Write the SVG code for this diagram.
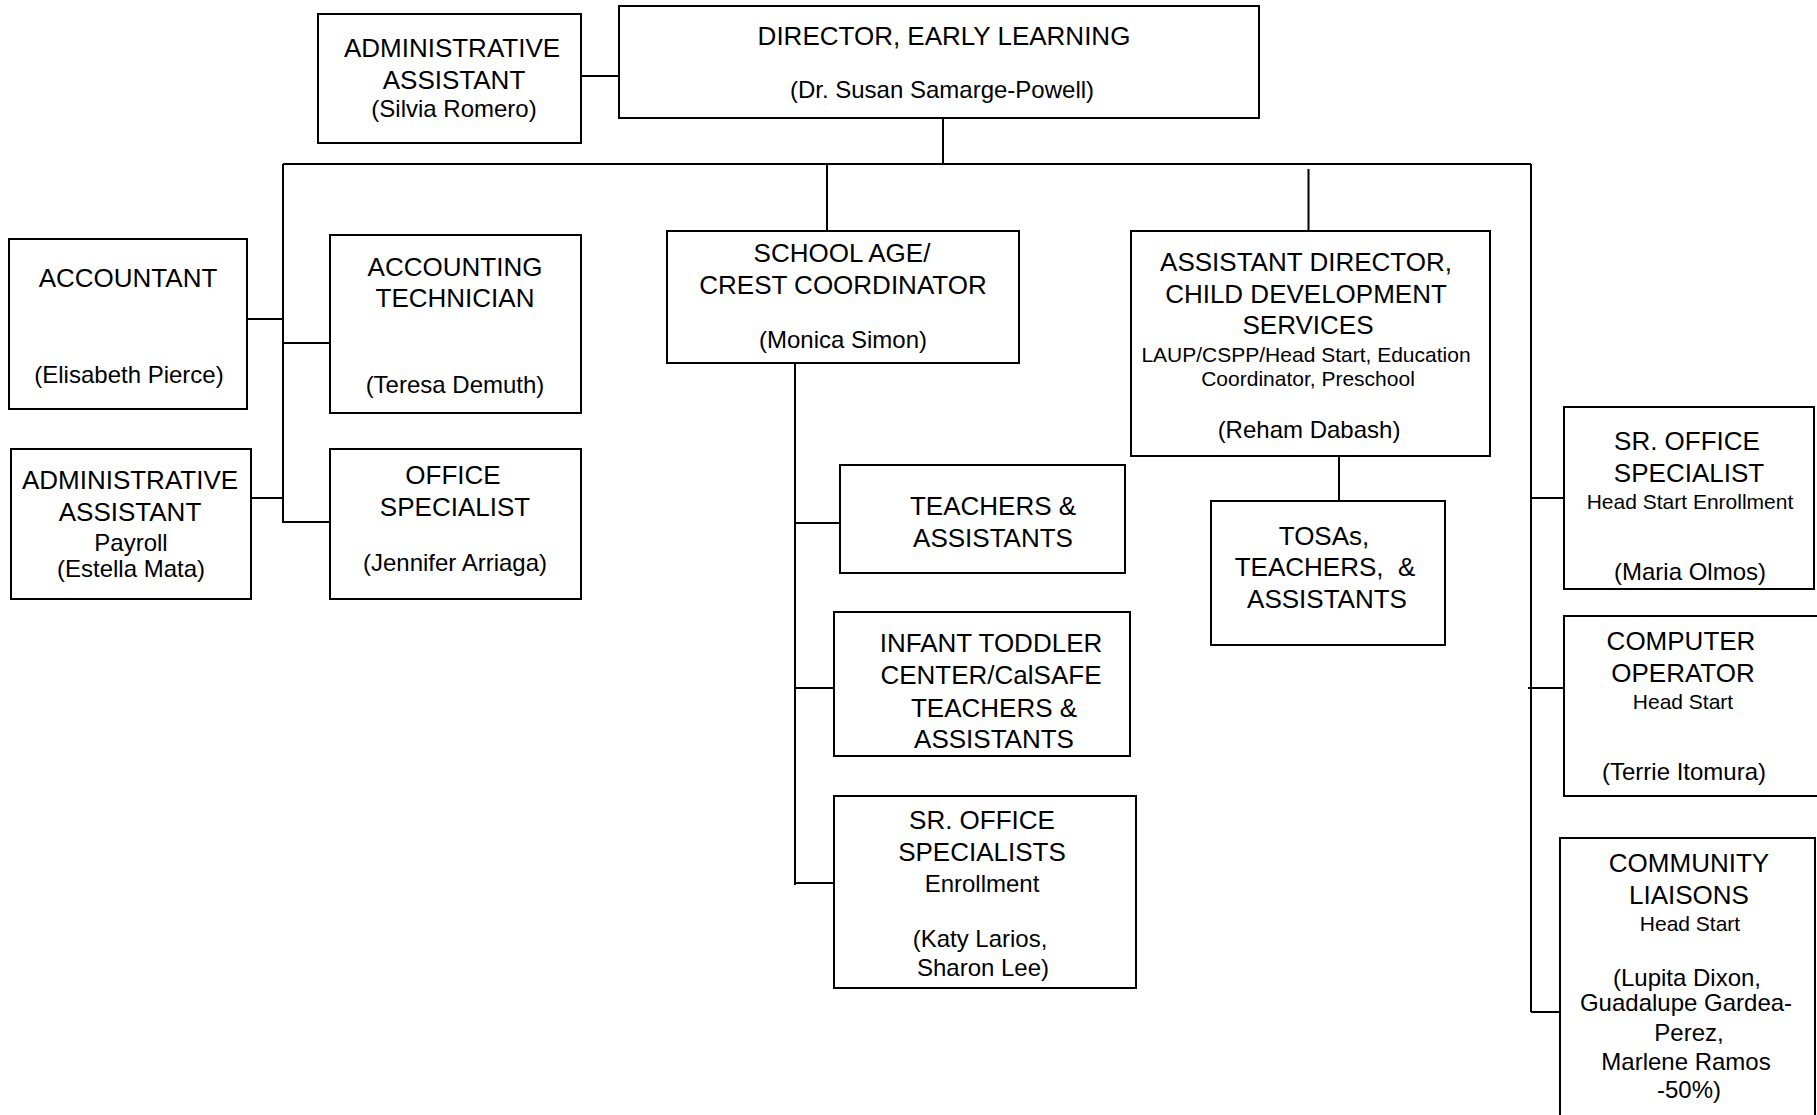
<svg xmlns="http://www.w3.org/2000/svg" width="1817" height="1115" viewBox="0 0 1817 1115">
<style>
  .box { fill: #ffffff; stroke: #000000; stroke-width: 2; }
  .ln { stroke: #000000; stroke-width: 2; fill: none; }
  text { font-family: "Liberation Sans", Arial, sans-serif; fill: #000000; text-anchor: middle; }
  .t { font-size: 26px; }
  .n { font-size: 24px; }
  .s { font-size: 21px; }
</style>
<rect x="0" y="0" width="1817" height="1115" fill="#ffffff"/>
<g id="connectors">
  <line class="ln" x1="581" y1="76" x2="619" y2="76"/>
  <line class="ln" x1="943" y1="118" x2="943" y2="164"/>
  <line class="ln" x1="283" y1="164" x2="1531" y2="164"/>
  <line class="ln" x1="283" y1="164" x2="283" y2="523"/>
  <line class="ln" x1="247" y1="319" x2="283" y2="319"/>
  <line class="ln" x1="283" y1="343" x2="330" y2="343"/>
  <line class="ln" x1="251" y1="498" x2="283" y2="498"/>
  <line class="ln" x1="283" y1="522" x2="330" y2="522"/>
  <line class="ln" x1="827" y1="164" x2="827" y2="231"/>
  <line class="ln" x1="1308.5" y1="169" x2="1308.5" y2="231"/>
  <line class="ln" x1="795" y1="364" x2="795" y2="885"/>
  <line class="ln" x1="795" y1="523" x2="840" y2="523"/>
  <line class="ln" x1="795" y1="688" x2="834" y2="688"/>
  <line class="ln" x1="795" y1="883" x2="834" y2="883"/>
  <line class="ln" x1="1339" y1="456" x2="1339" y2="501"/>
  <line class="ln" x1="1531" y1="164" x2="1531" y2="1012"/>
  <line class="ln" x1="1531" y1="498" x2="1564" y2="498"/>
  <line class="ln" x1="1528" y1="688" x2="1564" y2="688"/>
  <line class="ln" x1="1531" y1="1012" x2="1560" y2="1012"/>
</g>
<g id="admin-assistant-silvia">
  <rect class="box" x="318" y="14" width="263" height="129"/>
  <text class="t" x="452" y="57">ADMINISTRATIVE</text>
  <text class="t" x="454" y="89">ASSISTANT</text>
  <text class="n" x="454" y="117">(Silvia Romero)</text>
</g>
<g id="director">
  <rect class="box" x="619" y="6" width="640" height="112"/>
  <text class="t" x="944" y="45">DIRECTOR, EARLY LEARNING</text>
  <text class="n" x="942" y="98">(Dr. Susan Samarge-Powell)</text>
</g>
<g id="accountant">
  <rect class="box" x="9" y="239" width="238" height="170"/>
  <text class="t" x="128" y="287">ACCOUNTANT</text>
  <text class="n" x="129" y="383">(Elisabeth Pierce)</text>
</g>
<g id="accounting-technician">
  <rect class="box" x="330" y="235" width="251" height="178"/>
  <text class="t" x="455" y="276">ACCOUNTING</text>
  <text class="t" x="455" y="307">TECHNICIAN</text>
  <text class="n" x="455" y="393">(Teresa Demuth)</text>
</g>
<g id="admin-assistant-payroll">
  <rect class="box" x="11" y="449" width="240" height="150"/>
  <text class="t" x="130" y="489">ADMINISTRATIVE</text>
  <text class="t" x="130" y="521">ASSISTANT</text>
  <text class="n" x="131" y="551">Payroll</text>
  <text class="n" x="131" y="577">(Estella Mata)</text>
</g>
<g id="office-specialist">
  <rect class="box" x="330" y="449" width="251" height="150"/>
  <text class="t" x="453" y="484">OFFICE</text>
  <text class="t" x="455" y="516">SPECIALIST</text>
  <text class="n" x="455" y="571">(Jennifer Arriaga)</text>
</g>
<g id="school-age">
  <rect class="box" x="667" y="231" width="352" height="132"/>
  <text class="t" x="842" y="262">SCHOOL AGE/</text>
  <text class="t" x="843" y="294">CREST COORDINATOR</text>
  <text class="n" x="843" y="348">(Monica Simon)</text>
</g>
<g id="teachers-assistants">
  <rect class="box" x="840" y="465" width="285" height="108"/>
  <text class="t" x="993" y="515">TEACHERS &amp;</text>
  <text class="t" x="993" y="547">ASSISTANTS</text>
</g>
<g id="infant-toddler">
  <rect class="box" x="834" y="612" width="296" height="144"/>
  <text class="t" x="991" y="652">INFANT TODDLER</text>
  <text class="t" x="991" y="684">CENTER/CalSAFE</text>
  <text class="t" x="994" y="717">TEACHERS &amp;</text>
  <text class="t" x="994" y="748">ASSISTANTS</text>
</g>
<g id="sr-office-specialists">
  <rect class="box" x="834" y="796" width="302" height="192"/>
  <text class="t" x="982" y="829">SR. OFFICE</text>
  <text class="t" x="982" y="861">SPECIALISTS</text>
  <text class="n" x="982" y="892">Enrollment</text>
  <text class="n" x="980" y="947">(Katy Larios,</text>
  <text class="n" x="983" y="976">Sharon Lee)</text>
</g>
<g id="assistant-director">
  <rect class="box" x="1131" y="231" width="359" height="225"/>
  <text class="t" x="1306" y="271">ASSISTANT DIRECTOR,</text>
  <text class="t" x="1306" y="303">CHILD DEVELOPMENT</text>
  <text class="t" x="1308" y="334">SERVICES</text>
  <text class="s" x="1306" y="362">LAUP/CSPP/Head Start, Education</text>
  <text class="s" x="1308" y="386">Coordinator, Preschool</text>
  <text class="n" x="1309" y="438">(Reham Dabash)</text>
</g>
<g id="tosas">
  <rect class="box" x="1211" y="501" width="234" height="144"/>
  <text class="t" x="1324" y="545">TOSAs,</text>
  <text class="t" x="1325" y="576" style="white-space:pre">TEACHERS,  &amp;</text>
  <text class="t" x="1327" y="608">ASSISTANTS</text>
</g>
<g id="sr-office-specialist-right">
  <rect class="box" x="1564" y="407" width="250" height="182"/>
  <text class="t" x="1687" y="450">SR. OFFICE</text>
  <text class="t" x="1689" y="482">SPECIALIST</text>
  <text class="s" x="1690" y="509">Head Start Enrollment</text>
  <text class="n" x="1690" y="580">(Maria Olmos)</text>
</g>
<g id="computer-operator">
  <rect class="box" x="1564" y="616" width="270" height="180"/>
  <text class="t" x="1681" y="650">COMPUTER</text>
  <text class="t" x="1683" y="682">OPERATOR</text>
  <text class="s" x="1683" y="709">Head Start</text>
  <text class="n" x="1684" y="780">(Terrie Itomura)</text>
</g>
<g id="community-liaisons">
  <rect class="box" x="1560" y="838" width="255" height="300"/>
  <text class="t" x="1689" y="872">COMMUNITY</text>
  <text class="t" x="1689" y="904">LIAISONS</text>
  <text class="s" x="1690" y="931">Head Start</text>
  <text class="n" x="1687" y="986">(Lupita Dixon,</text>
  <text class="n" x="1686" y="1011">Guadalupe Gardea-</text>
  <text class="n" x="1689" y="1041">Perez,</text>
  <text class="n" x="1686" y="1070">Marlene Ramos</text>
  <text class="n" x="1689" y="1098">-50%)</text>
</g>
</svg>
